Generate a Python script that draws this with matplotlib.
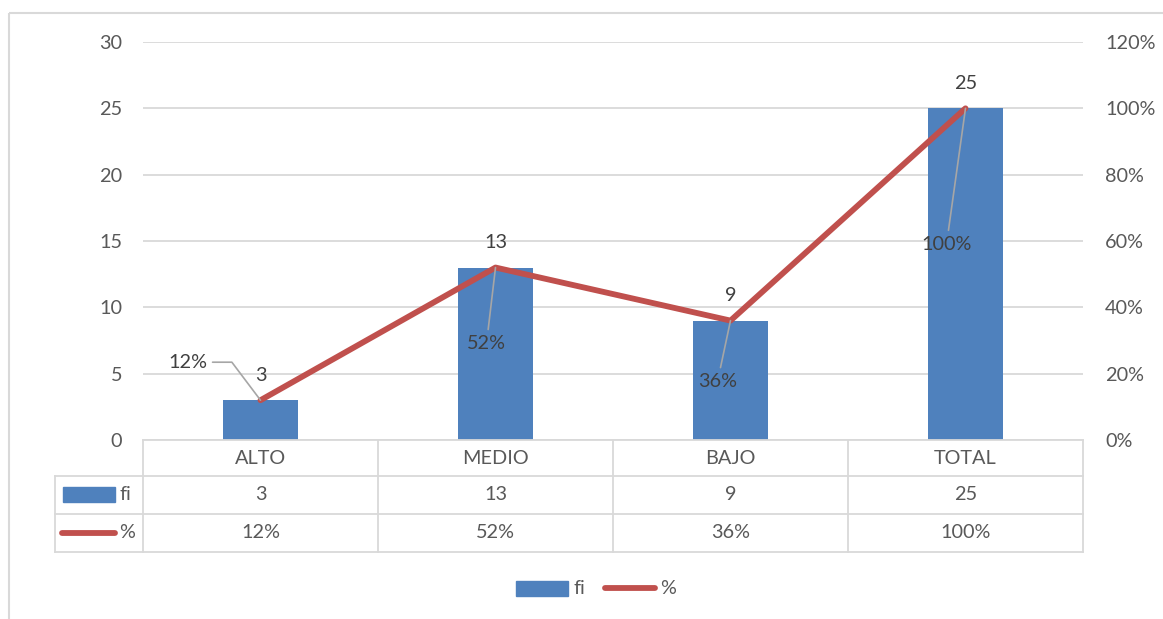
import matplotlib
matplotlib.use("Agg")
import matplotlib.pyplot as plt
import matplotlib.transforms as mtransforms
from matplotlib.patches import Rectangle
from matplotlib.lines import Line2D

# data
categories = ["ALTO", "MEDIO", "BAJO", "TOTAL"]
fi = [3, 13, 9, 25]
pct = [0.12, 0.52, 0.36, 1.00]
pct_labels = ["12%", "52%", "36%", "100%"]

W, H = 1163, 619
BLUE = "#4F81BD"
RED = "#C0504D"
GRID = "#D9D9D9"
TXT = "#595959"
LBL = "#404040"
FS = 14.3

plt.rcParams['font.family'] = ['Lato', 'DejaVu Sans']
plt.rcParams['font.size'] = FS

fig = plt.figure(figsize=(W / 100, H / 100), dpi=100)
# pixel coordinates with origin at the top-left
px = mtransforms.Affine2D().scale(1 / W, -1 / H).translate(0, 1) + fig.transFigure

# chart border
fig.patches.append(Rectangle((9, 13), 1200, 700, transform=px, fill=False,
                             edgecolor=GRID, lw=1.5))

L, R, T, B = 143, 1083, 42, 440
ax = fig.add_axes([L / W, 1 - B / H, (R - L) / W, (B - T) / H])
x = list(range(len(categories)))
ax.bar(x, fi, width=0.315, color=BLUE, zorder=2)
ax.set_xlim(-0.5, len(categories) - 0.5)
ax.set_ylim(0, 30)
ax.set_yticks(range(0, 31, 5))
ax.yaxis.grid(True, color=GRID, lw=1.3, zorder=0)
ax.set_xticks([])
for s in ["top", "right", "left"]:
    ax.spines[s].set_visible(False)
ax.spines["bottom"].set_color(GRID)
ax.spines["bottom"].set_linewidth(1.3)
ax.tick_params(axis="y", length=0, pad=15, labelcolor=TXT, labelsize=FS)

for xi, v in zip(x, fi):
    ax.annotate(str(v), (xi, v), xytext=(0, 25), textcoords="offset pixels",
                ha="center", va="center", color=LBL, fontsize=FS)

ax2 = ax.twinx()
ax2.plot(x, pct, color=RED, lw=4.2, solid_capstyle="round", zorder=3)
ax2.set_ylim(0, 1.2)
ax2.set_yticks([i / 5 for i in range(7)])
ax2.set_yticklabels([f"{int(round(t * 100))}%" for t in ax2.get_yticks()])
for s in ["top", "right", "left", "bottom"]:
    ax2.spines[s].set_visible(False)
ax2.tick_params(axis="y", length=0, pad=16, labelcolor=TXT, labelsize=FS)

# percentage labels with leader lines
offsets = [(-73, 38), (-9, -76), (-13, -61), (-19, -136)]
conns = ["angle,angleA=0,angleB=127,rad=0", "arc3", "arc3", "arc3"]
for xi, v, lab, off, cs in zip(x, pct, pct_labels, offsets, conns):
    ax2.annotate(lab, (xi, v), xytext=off, textcoords="offset pixels",
                 ha="center", va="center", color=LBL, fontsize=FS,
                 arrowprops=dict(arrowstyle="-", color="#A6A6A6", lw=1.2,
                                 connectionstyle=cs, shrinkA=2, shrinkB=0))

# data table
col_w = (R - L) / len(categories)
rows_y = [440, 476, 514, 552]
for i in range(len(categories) + 1):
    fig.add_artist(Line2D([L + i * col_w] * 2, [440, 552], transform=px, color=GRID, lw=1.3))
fig.add_artist(Line2D([55, 55], [476, 552], transform=px, color=GRID, lw=1.3))
for yy in rows_y[1:]:
    fig.add_artist(Line2D([55, R], [yy, yy], transform=px, color=GRID, lw=1.3))

for i, c in enumerate(categories):
    cx = L + (i + 0.5) * col_w
    fig.text(cx, 458, c, transform=px, ha="center", va="center", color=TXT, fontsize=FS)
    fig.text(cx, 495, str(fi[i]), transform=px, ha="center", va="center", color=TXT, fontsize=FS)
    fig.text(cx, 533, pct_labels[i], transform=px, ha="center", va="center", color=TXT, fontsize=FS)

# table legend keys
fig.patches.append(Rectangle((63, 487), 52, 15, transform=px, color=BLUE))
fig.text(119, 495, "fi", transform=px, ha="left", va="center", color=TXT, fontsize=FS)
fig.add_artist(Line2D([62, 115], [533, 533], transform=px, color=RED, lw=4.2, solid_capstyle="round"))
fig.text(119, 533, "%", transform=px, ha="left", va="center", color=TXT, fontsize=FS)

# bottom legend
fig.patches.append(Rectangle((516, 581), 52, 15, transform=px, color=BLUE))
fig.text(573, 589, "fi", transform=px, ha="left", va="center", color=TXT, fontsize=FS)
fig.add_artist(Line2D([605, 655], [588, 588], transform=px, color=RED, lw=4.2, solid_capstyle="round"))
fig.text(660, 589, "%", transform=px, ha="left", va="center", color=TXT, fontsize=FS)

fig.savefig("out.png", dpi=100)
